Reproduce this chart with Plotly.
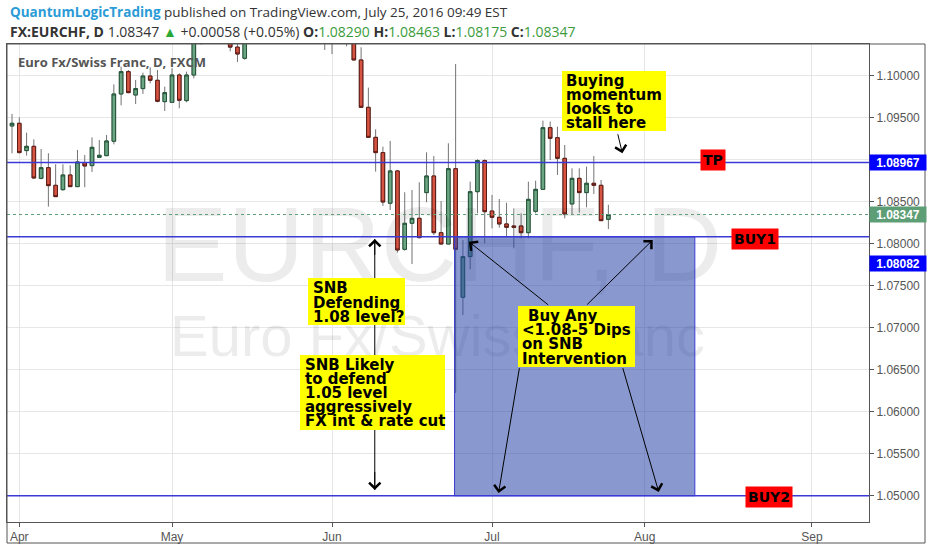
import plotly.graph_objects as go
from datetime import datetime, timedelta

# ---------------- data (EUR/CHF daily, FXCM) ----------------
dates = [
    "2016-03-31", "2016-04-01", "2016-04-04", "2016-04-05", "2016-04-06", "2016-04-07", "2016-04-08",
    "2016-04-11", "2016-04-12", "2016-04-13", "2016-04-14", "2016-04-15", "2016-04-18", "2016-04-19",
    "2016-04-20", "2016-04-21", "2016-04-22", "2016-04-25", "2016-04-26", "2016-04-27", "2016-04-28",
    "2016-04-29", "2016-05-02", "2016-05-03", "2016-05-04", "2016-05-05", "2016-05-06", "2016-05-09",
    "2016-05-10", "2016-05-11", "2016-05-12", "2016-05-13", "2016-05-16", "2016-05-17", "2016-05-18",
    "2016-05-19", "2016-05-20", "2016-05-23", "2016-05-24", "2016-05-25", "2016-05-26", "2016-05-27",
    "2016-05-30", "2016-05-31", "2016-06-01", "2016-06-02", "2016-06-03", "2016-06-06", "2016-06-07",
    "2016-06-08", "2016-06-09", "2016-06-10", "2016-06-13", "2016-06-14", "2016-06-15", "2016-06-16",
    "2016-06-17", "2016-06-20", "2016-06-21", "2016-06-22", "2016-06-23", "2016-06-24", "2016-06-27",
    "2016-06-28", "2016-06-29", "2016-06-30", "2016-07-01", "2016-07-04", "2016-07-05", "2016-07-06",
    "2016-07-07", "2016-07-08", "2016-07-11", "2016-07-12", "2016-07-13", "2016-07-14", "2016-07-15",
    "2016-07-18", "2016-07-19", "2016-07-20", "2016-07-21", "2016-07-22", "2016-07-25",
]
opens = [
    1.09401, 1.09433, 1.09108, 1.09159, 1.08778, 1.08905, 1.08695,
    1.08643, 1.08818, 1.08679, 1.08965, 1.08929, 1.09028, 1.09048,
    1.09219, 1.09782, 1.10048, 1.09770, 1.09846, 1.09996, 1.09945,
    1.09691, 1.09683, 1.10008, 1.09703, 1.10008, 1.10580, 1.10800,
    1.10900, 1.10750, 1.10500, 1.10340, 1.10207, 1.10520, 1.10720,
    1.11000, 1.10850, 1.10900, 1.10750, 1.11000, 1.11200, 1.10950,
    1.11050, 1.11100, 1.10600, 1.10700, 1.10600, 1.10500, 1.10187,
    1.09623, 1.09266, 1.09084, 1.08481, 1.08866, 1.07933, 1.08243,
    1.08302, 1.08608, 1.08806, 1.08131, 1.07996, 1.08893, 1.07362,
    1.07846, 1.08619, 1.08989, 1.08389, 1.08314, 1.08235, 1.08211,
    1.08211, 1.08131, 1.08385, 1.08647, 1.09381, 1.09262, 1.09016,
    1.08473, 1.08778, 1.08608, 1.08719, 1.08695, 1.08290,
]
highs = [
    1.09544, 1.09504, 1.09322, 1.09242, 1.09127, 1.09076, 1.08945,
    1.08945, 1.08933, 1.09116, 1.09056, 1.09266, 1.09235, 1.09294,
    1.09897, 1.10108, 1.10068, 1.09949, 1.10036, 1.10100, 1.10068,
    1.09869, 1.10088, 1.10028, 1.10048, 1.10720, 1.10920, 1.11050,
    1.11080, 1.10900, 1.10620, 1.10450, 1.10600, 1.10800, 1.11100,
    1.11200, 1.11050, 1.11000, 1.11100, 1.11350, 1.11300, 1.11150,
    1.11200, 1.11250, 1.10850, 1.10900, 1.10750, 1.10620, 1.10338,
    1.09858, 1.09362, 1.09155, 1.09223, 1.08877, 1.08612, 1.08639,
    1.08731, 1.09088, 1.09044, 1.08508, 1.09195, 1.10139, 1.08044,
    1.08739, 1.09004, 1.09004, 1.08580, 1.08532, 1.08488, 1.08421,
    1.08361, 1.08738, 1.08750, 1.09465, 1.09453, 1.09393, 1.09175,
    1.08897, 1.08897, 1.08917, 1.09044, 1.08758, 1.08463,
]
lows = [
    1.09076, 1.09076, 1.09048, 1.08774, 1.08766, 1.08441, 1.08560,
    1.08631, 1.08679, 1.08679, 1.08671, 1.08854, 1.09028, 1.09048,
    1.09183, 1.09647, 1.09790, 1.09663, 1.09782, 1.09909, 1.09683,
    1.09580, 1.09683, 1.09612, 1.09683, 1.09969, 1.10370, 1.10600,
    1.10650, 1.10450, 1.10290, 1.10163, 1.10190, 1.10450, 1.10600,
    1.10750, 1.10700, 1.10650, 1.10700, 1.10900, 1.10850, 1.10800,
    1.10900, 1.10306, 1.10258, 1.10450, 1.10350, 1.10187, 1.09623,
    1.09266, 1.08858, 1.08449, 1.08401, 1.07893, 1.07917, 1.07758,
    1.08064, 1.08493, 1.08104, 1.07992, 1.07996, 1.06223, 1.07151,
    1.07695, 1.08362, 1.08004, 1.08183, 1.08191, 1.08084, 1.07945,
    1.08064, 1.08064, 1.08361, 1.08647, 1.08996, 1.08818, 1.08302,
    1.08342, 1.08369, 1.08433, 1.08592, 1.08274, 1.08175,
]
closes = [
    1.09433, 1.09084, 1.09159, 1.08782, 1.08905, 1.08691, 1.08560,
    1.08818, 1.08679, 1.08973, 1.08925, 1.09147, 1.09052, 1.09223,
    1.09782, 1.10048, 1.09798, 1.09846, 1.09996, 1.09945, 1.09695,
    1.09798, 1.10008, 1.09707, 1.10008, 1.10600, 1.10800, 1.10900,
    1.10750, 1.10500, 1.10340, 1.10258, 1.10520, 1.10720, 1.11000,
    1.10850, 1.10900, 1.10750, 1.11000, 1.11200, 1.10950, 1.11050,
    1.11100, 1.10600, 1.10700, 1.10600, 1.10500, 1.10187, 1.09623,
    1.09266, 1.09084, 1.08496, 1.08866, 1.07925, 1.08243, 1.08302,
    1.08072, 1.08806, 1.08131, 1.07996, 1.08893, 1.07933, 1.07846,
    1.08619, 1.08989, 1.08381, 1.08314, 1.08235, 1.08195, 1.08195,
    1.08131, 1.08528, 1.08647, 1.09381, 1.09254, 1.09016, 1.08354,
    1.08778, 1.08608, 1.08719, 1.08695, 1.08274, 1.08347,
]

price_ticks = [1.05, 1.055, 1.06, 1.065, 1.07, 1.075, 1.08, 1.085, 1.09, 1.095, 1.10]
month_ticks = ["2016-04-01", "2016-05-02", "2016-06-01", "2016-07-01", "2016-08-01", "2016-09-01"]
month_labels = ["Apr", "May", "Jun", "Jul", "Aug", "Sep"]

last_price = 1.08347
tp_level = 1.08967
buy1_level = 1.08082
buy2_level = 1.05000

# ---------------- helpers ----------------
def at(d, frac=0.0):
    """bar centre (noon) of a trading day, shifted by a fraction of a bar"""
    t = datetime.strptime(d, "%Y-%m-%d") + timedelta(hours=12 + 24 * frac)
    return t.strftime("%Y-%m-%d %H:%M")

X0, X1, Y0, Y1 = 7, 869, 44, 522          # plot area in pixels
def PX(x):
    return (x - X0) / (X1 - X0)
def PY(y):
    return (Y1 - y) / (Y1 - Y0)

xs = [at(d) for d in dates]
body_hi = [max(o, c) for o, c in zip(opens, closes)]
body_lo = [min(o, c) for o, c in zip(opens, closes)]

UP, DN = "#6ba583", "#d75442"
UPB, DNB = "#225437", "#5b1a13"
WICK = "#737375"
BLUE = "#3a3ad6"

fig = go.Figure()

# watermark (behind candles)
fig.add_trace(go.Scatter(x=[at("2016-06-22", -0.2)], y=[1.0787], mode="text", text=["EURCHF, D"],
                         textfont=dict(family="Liberation Sans", size=106, color="rgba(0,0,0,0.075)"),
                         hoverinfo="skip", showlegend=False))
fig.add_trace(go.Scatter(x=[at("2016-06-22", -0.5)], y=[1.0683], mode="text", text=["Euro Fx/Swiss Franc"],
                         textfont=dict(family="Liberation Sans", size=58, color="rgba(0,0,0,0.075)"),
                         hoverinfo="skip", showlegend=False))

# wicks
fig.add_trace(go.Candlestick(x=xs, open=opens, high=highs, low=lows, close=closes,
                             increasing=dict(line=dict(color=WICK, width=1), fillcolor=UP),
                             decreasing=dict(line=dict(color=WICK, width=1), fillcolor=DN),
                             whiskerwidth=0, hoverinfo="skip", showlegend=False))
# bodies
fig.add_trace(go.Candlestick(x=xs, open=opens, high=body_hi, low=body_lo, close=closes,
                             increasing=dict(line=dict(color=UPB, width=1), fillcolor=UP),
                             decreasing=dict(line=dict(color=DNB, width=1), fillcolor=DN),
                             whiskerwidth=0, hoverinfo="skip", showlegend=False))

shapes = []
ann = []

# current price dotted line
shapes.append(dict(type="line", xref="paper", x0=0, x1=1, yref="y", y0=last_price, y1=last_price,
                   line=dict(color="#5e9e76", width=1, dash="dot")))
# buy zone box
shapes.append(dict(type="rect", xref="x", yref="y", x0=at("2016-06-24", -0.15), x1=at("2016-08-10", -0.11),
                   y0=buy2_level, y1=buy1_level, fillcolor="rgba(40,70,170,0.55)",
                   line=dict(color=BLUE, width=1)))
for lv in (tp_level, buy1_level, buy2_level):
    shapes.append(dict(type="line", xref="paper", x0=0, x1=1, yref="y", y0=lv, y1=lv,
                       line=dict(color=BLUE, width=1.6)))
# outer frame (plot + price axis + date axis)
shapes.append(dict(type="rect", xref="paper", yref="paper", x0=0, x1=PX(925), y0=PY(543), y1=1,
                   line=dict(color="#555555", width=1)))

# SNB vertical double arrow: shaft as a shape (under the note boxes), heads as short arrows
snb_x = at("2016-06-09", -0.12)
shapes.append(dict(type="line", xref="x", yref="y", x0=snb_x, x1=snb_x, y0=1.05068, y1=1.08056,
                   line=dict(color="black", width=1)))

# header
ann.append(dict(xref="paper", yref="paper", x=PX(8), y=PY(12), xanchor="left", yanchor="middle", showarrow=False,
                text="<b><span style='color:#2a9bd6'>QuantumLogicTrading</span></b> published on TradingView.com, July 25, 2016 09:49 EST",
                font=dict(family="Open Sans", size=13.5, color="#333333")))
g = "#3b9b3b"
ann.append(dict(xref="paper", yref="paper", x=PX(8), y=PY(31), xanchor="left", yanchor="middle", showarrow=False,
                text=("<b>FX:EURCHF, D</b> 1.08347 <span style='color:#2aa836'>▲</span> +0.00058 (+0.05%) "
                      f"<b>O:</b><span style='color:{g}'>1.08290</span> <b>H:</b><span style='color:{g}'>1.08463</span> "
                      f"<b>L:</b><span style='color:{g}'>1.08175</span> <b>C:</b><span style='color:{g}'>1.08347</span>"),
                font=dict(family="Open Sans", size=14, color="#333333")))
# chart title
ann.append(dict(xref="paper", yref="paper", x=PX(16), y=PY(62), xanchor="left", yanchor="middle", showarrow=False,
                text="<b>Euro Fx/Swiss Franc, D, FXCM</b>", font=dict(family="Open Sans", size=13, color="#555555")))

# price axis value labels
def axis_label(val, bg, shift=0):
    ann.append(dict(xref="paper", yref="y", x=PX(869), y=val, yshift=shift, xanchor="left", yanchor="middle",
                    showarrow=False, text=f"<b>{val:.5f}</b>", bgcolor=bg, width=54, height=13, borderpad=1,
                    font=dict(family="Liberation Sans", size=12, color="white")))
axis_label(tp_level, "#0000ff")
axis_label(last_price, "#5e9e76")
axis_label(buy1_level, "#0000ff", shift=-27)

# red level tags
def red_tag(txt, xc, val, shift):
    ann.append(dict(xref="paper", yref="y", x=PX(xc), y=val, yshift=shift, xanchor="center", yanchor="middle",
                    showarrow=False, text=f"<b>{txt}</b>", bgcolor="#ff0000", borderpad=2,
                    font=dict(family="DejaVu Sans", size=14, color="black")))
red_tag("TP", 713, tp_level, 2)
red_tag("BUY1", 755, buy1_level, -2)
red_tag("BUY2", 769, buy2_level, -1)

# arrows
def arrow(head_x, head_y, tail_x, tail_y):
    ann.append(dict(xref="x", yref="y", axref="x", ayref="y", x=head_x, y=head_y, ax=tail_x, ay=tail_y,
                    text="", showarrow=True, arrowhead=4, arrowsize=2.2, arrowwidth=1, arrowcolor="black",
                    standoff=0))

arrow(snb_x, 1.08056, snb_x, 1.0785)
arrow(snb_x, 1.05068, snb_x, 1.0530)
arrow(at("2016-07-27", -0.07), 1.09076, at("2016-07-26", 0.25), 1.09321)
arrow(at("2016-06-28", -0.18), 1.08024, at("2016-07-13", -0.07), 1.07258)
arrow(at("2016-08-02", 0.1), 1.08044, at("2016-07-20", -0.12), 1.07258)
arrow(at("2016-07-04", -0.1), 1.05032, at("2016-07-07", -0.2), 1.06536)
arrow(at("2016-08-03", -0.07), 1.05044, at("2016-07-27", -0.07), 1.06536)

# yellow note boxes
def note(x0, y0, x1, y1, lines, tx, ty0, dy, first_dx=0):
    shapes.append(dict(type="rect", xref="paper", yref="paper", x0=PX(x0), x1=PX(x1), y0=PY(y1), y1=PY(y0),
                       fillcolor="#ffff00", line=dict(width=0), layer="above"))
    for i, s in enumerate(lines):
        ann.append(dict(xref="paper", yref="paper", x=PX(tx + (first_dx if i == 0 else 0)), y=PY(ty0 + i * dy),
                        xanchor="left", yanchor="middle", showarrow=False, text=f"<b>{s}</b>",
                        font=dict(family="DejaVu Sans", size=15, color="black")))

note(562, 71, 666, 131, ["Buying", "momentum", "looks to", "stall here"], 564, 81, 14.0)
note(308, 278, 405, 325, ["SNB", "Defending", "1.08 level?"], 311, 288, 14.5)
note(300, 355, 445, 430, ["SNB Likely", "to defend", "1.05 level", "aggressively", "FX int &amp; rate cut"], 303, 364.5, 14.2)
note(518, 306, 635, 367, ["Buy Any", "&lt;1.08-5 Dips", "on SNB", "Intervention"], 520, 316, 14.2, first_dx=6)

fig.update_layout(
    width=932, height=550,
    margin=dict(l=X0, r=932 - X1, t=Y0, b=550 - Y1),
    paper_bgcolor="white", plot_bgcolor="white",
    showlegend=False,
    shapes=shapes, annotations=ann,
    xaxis=dict(type="date", rangebreaks=[dict(bounds=["sat", "mon"])],
               range=[at("2016-03-31", -0.69), at("2016-09-12", 0.84)],
               rangeslider=dict(visible=False),
               tickvals=[at(d) for d in month_ticks], ticktext=month_labels,
               showgrid=True, gridcolor="#e6e6e6", gridwidth=1,
               ticks="outside", ticklen=4, tickcolor="#555555",
               showline=True, linecolor="#555555", linewidth=1, mirror=True,
               tickfont=dict(family="Liberation Sans", size=12, color="#555555"), zeroline=False),
    yaxis=dict(side="right", range=[1.04687, 1.10377], tickvals=price_ticks, tickformat=".5f",
               showgrid=True, gridcolor="#e6e6e6", gridwidth=1,
               ticks="outside", ticklen=4, tickcolor="#555555",
               showline=True, linecolor="#555555", linewidth=1, mirror=True,
               tickfont=dict(family="Liberation Sans", size=12, color="#555555"), zeroline=False),
)

fig.write_html("out.html", config={"displayModeBar": False},
               post_script="document.body.style.margin='0';document.body.style.padding='0';")
